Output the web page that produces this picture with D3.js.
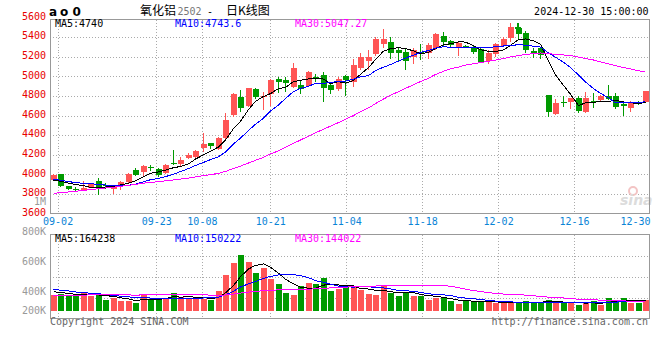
<!DOCTYPE html>
<html>
<head>
<meta charset="utf-8">
<script src="https://cdn.jsdelivr.net/npm/d3@7"></script>
<style>
body { margin: 0; background: #fff; }
svg { display: block; }
text { font-family: "DejaVu Sans Mono", monospace; font-size: 10px; }
</style>
</head>
<body>
<div id="chart"></div>
<script>
// trading days shown (08-30 .. 12-30)
var dates = ["08-30",
  "09-02","09-03","09-04","09-05","09-06","09-09","09-10","09-11","09-12","09-13",
  "09-18","09-19","09-20","09-23","09-24","09-25","09-26","09-27","09-30",
  "10-08","10-09","10-10","10-11","10-14","10-15","10-16","10-17","10-18",
  "10-21","10-22","10-23","10-24","10-25","10-28","10-29","10-30","10-31",
  "11-01","11-04","11-05","11-06","11-07","11-08","11-11","11-12","11-13","11-14","11-15",
  "11-18","11-19","11-20","11-21","11-22","11-25","11-26","11-27","11-28","11-29",
  "12-02","12-03","12-04","12-05","12-06","12-09","12-10","12-11","12-12","12-13",
  "12-16","12-17","12-18","12-19","12-20","12-23","12-24","12-25","12-26","12-27","12-30"];

var opens = [3945,4000,3880,3848,3840,3868,3930,3890,3848,3885,
  3922,4040,4017,4070,4050,4012,4118,4105,4170,4180,
  4268,4316,4258,4373,4605,4792,4697,4870,4790,4822,
  4975,4968,4894,4911,4901,4997,5014,4911,4870,5003,
  4946,5088,5160,5235,5337,5353,5275,5251,5200,5250,
  5235,5296,5414,5360,5296,5314,5302,5278,5150,5228,
  5312,5387,5490,5446,5262,5286,4809,4612,4738,4731,
  4776,4629,4753,4758,4799,4799,4714,4675,4734,4741];
var highs = [4000,4003,3885,3873,3935,3915,3960,3908,3895,3930,
  4010,4060,4095,4095,4065,4105,4250,4173,4220,4250,
  4418,4325,4385,4622,4830,4860,4885,4885,4843,4975,
  4990,4990,5140,4960,5060,5030,5048,4930,4990,5013,
  5174,5235,5275,5400,5480,5400,5300,5290,5290,5330,
  5337,5445,5455,5375,5347,5320,5320,5305,5268,5340,
  5400,5533,5541,5465,5286,5300,4809,4766,4799,4780,
  4799,4843,4826,4810,4911,4826,4731,4745,4745,4850];
var lows = [3935,3868,3840,3822,3830,3860,3785,3847,3795,3835,
  3910,3980,3975,4037,3975,4005,4095,4090,4153,4153,
  4230,4255,4245,4357,4590,4640,4690,4770,4656,4697,
  4830,4840,4884,4820,4890,4940,4741,4820,4850,4800,
  4894,5065,5064,5210,5286,5175,5160,5070,5130,5166,
  5175,5268,5300,5300,5210,5290,5230,5140,5125,5200,
  5300,5355,5387,5235,5184,5180,4588,4605,4690,4666,
  4630,4625,4673,4735,4755,4670,4595,4640,4705,4730];
var closes = [3995,3873,3850,3845,3860,3905,3865,3875,3890,3920,
  4000,3987,4082,4068,3988,4095,4105,4146,4197,4238,
  4309,4282,4373,4554,4819,4684,4877,4792,4805,4967,
  4940,4935,5088,4870,5041,4982,4884,4855,4972,4962,
  5117,5200,5200,5387,5387,5245,5245,5160,5268,5238,
  5319,5438,5353,5320,5337,5308,5251,5150,5235,5330,
  5387,5490,5432,5276,5228,5217,4639,4725,4733,4776,
  4639,4776,4750,4799,4765,4690,4690,4724,4728,4850];
var volumes = [260000,276000,249000,249000,287000,249000,276000,179000,206000,163000,
  163000,136000,260000,190000,206000,206000,298000,233000,206000,190000,
  190000,179000,331000,585000,786000,911000,802000,623000,705000,515000,
  434000,298000,260000,407000,461000,434000,542000,325000,352000,407000,
  407000,341000,276000,260000,407000,287000,249000,314000,249000,249000,
  179000,217000,206000,163000,114000,163000,141000,163000,152000,125000,
  125000,125000,152000,163000,146000,125000,179000,152000,125000,125000,
  92000,152000,163000,92000,211000,163000,211000,136000,136000,179000];

// closes / volumes of the 29 sessions before 08-30 (estimated from where the MA lines start)
var priorCloses = [3640,3660,3625,3610,3630,3620,3645,3650,3665,3675,
  3700,3740,3780,3800,3820,3850,3870,3880,3900,3925,
  3960,3990,3950,3930,3950,3935,3945,3920,3915];
var priorVolumes = [180000,210000,190000,220000,170000,200000,230000,185000,195000,205000,
  175000,215000,190000,200000,210000,180000,225000,195000,185000,215000,
  420000,380000,410000,370000,380000,340000,320000,330000,320000];

var priceTicks = [3600,3800,4000,4200,4400,4600,4800,5000,5200,5400,5600];
var volTicks = [200000,400000,600000,800000,1000000];
var volTickLabels = ["200K","400K","600K","800K","1M"];
var dateTicks = ["09-02","09-23","10-08","10-21","11-04","11-18","12-02","12-16","12-30"];
var priceLegend = ["MA5:4740","MA10:4743.6","MA30:5047.27"];
var volLegend = ["MA5:164238","MA10:150222","MA30:144022"];
var maPeriods = [5, 10, 30];
var maColors = ["#000000", "#0000ff", "#ff00ff"];

var upColor = "#ff5555", downColor = "#009a00";

var width = 660, height = 360;
var left = 50, right = 650;
var mainTop = 19.5, mainBottom = 213.5;
var volTop = 234.5, volBottom = 318.5;

var svg = d3.select("#chart").append("svg")
    .attr("width", width)
    .attr("height", height);

// scales
var x = d3.scaleBand().domain(dates).range([left, right]).paddingInner(0.2).paddingOuter(0.1);
var xGrid = d3.scalePoint().domain(dates).range([left, right]);
var y = d3.scaleLinear().domain([3600, 5600]).range([213.5, 17.7]);
var yVol = d3.scaleLinear().domain([0, 1000000]).range([311, 249.5]);
// sina spaces its volume labels unevenly
var yVolLabel = d3.scaleLinear().domain([200000, 400000, 1000000]).range([310, 291, 201]);

function cx(d) { return Math.round(x(d)) + 2.5; }
function isUp(i) { return closes[i] >= opens[i]; }

function movingAverage(values, prior, n) {
    var all = prior.concat(values);
    return values.map(function(v, i) {
        var end = prior.length + i + 1;
        return d3.mean(all.slice(end - n, end));
    });
}

// ---- grids
var grid = svg.append("g")
    .attr("stroke", "#aaa")
    .attr("stroke-dasharray", "1,2")
    .attr("shape-rendering", "crispEdges");

grid.selectAll(".hg").data(priceTicks.slice(1, -1)).enter().append("line")
    .attr("x1", left).attr("x2", right)
    .attr("y1", function(d) { return Math.round(y(d)) + 0.5; })
    .attr("y2", function(d) { return Math.round(y(d)) + 0.5; });

grid.selectAll(".vg").data(dateTicks.slice(0, -1)).enter().append("line")
    .attr("x1", function(d) { return Math.round(xGrid(d)) + 0.5; })
    .attr("x2", function(d) { return Math.round(xGrid(d)) + 0.5; })
    .attr("y1", mainTop).attr("y2", mainBottom);

grid.selectAll(".vg2").data(dateTicks.slice(0, -1)).enter().append("line")
    .attr("x1", function(d) { return Math.round(xGrid(d)) + 0.5; })
    .attr("x2", function(d) { return Math.round(xGrid(d)) + 0.5; })
    .attr("y1", volTop).attr("y2", volBottom);

grid.selectAll(".hg2").data([1, 2, 3]).enter().append("line")
    .attr("x1", left).attr("x2", right)
    .attr("y1", function(k) { return Math.round(volTop + k * (volBottom - volTop) / 4) + 0.5; })
    .attr("y2", function(k) { return Math.round(volTop + k * (volBottom - volTop) / 4) + 0.5; });

// sina watermark
svg.append("circle").attr("cx", 633).attr("cy", 191).attr("r", 4)
    .attr("fill", "none").attr("stroke", "#f3c4c4").attr("stroke-width", 2);
svg.append("text").attr("x", 620).attr("y", 205)
    .style("font-family", "DejaVu Sans").style("font-size", "14px")
    .style("font-weight", "bold").style("font-style", "italic")
    .attr("fill", "#dcdcdc").text("sina");

// ---- frames
svg.append("rect").attr("x", left + 0.5).attr("y", mainTop)
    .attr("width", right - left - 1).attr("height", mainBottom - mainTop)
    .attr("fill", "none").attr("stroke", "#999").attr("shape-rendering", "crispEdges");
svg.append("rect").attr("x", left + 0.5).attr("y", volTop)
    .attr("width", right - left - 1).attr("height", volBottom - volTop)
    .attr("fill", "none").attr("stroke", "#999").attr("shape-rendering", "crispEdges");

// ---- candles
var candle = svg.append("g").attr("shape-rendering", "crispEdges")
    .selectAll("g").data(dates).enter().append("g")
    .attr("fill", function(d, i) { return isUp(i) ? upColor : downColor; })
    .attr("stroke", function(d, i) { return isUp(i) ? upColor : downColor; });

candle.append("line")
    .attr("x1", cx).attr("x2", cx)
    .attr("y1", function(d, i) { return y(highs[i]); })
    .attr("y2", function(d, i) { return y(lows[i]); });

candle.append("rect")
    .attr("stroke", "none")
    .attr("x", function(d) { return Math.round(x(d)); })
    .attr("width", Math.round(x.bandwidth()))
    .attr("y", function(d, i) { return Math.round(y(Math.max(opens[i], closes[i]))); })
    .attr("height", function(d, i) {
        return Math.max(1, Math.round(Math.abs(y(opens[i]) - y(closes[i]))));
    });

// ---- price moving averages
maPeriods.forEach(function(n, k) {
    var ma = movingAverage(closes, priorCloses, n);
    svg.append("path")
        .datum(ma)
        .attr("fill", "none")
        .attr("stroke", maColors[k])
        .attr("stroke-width", 1)
        .attr("shape-rendering", "crispEdges")
        .attr("d", d3.line()
            .x(function(d, i) { return cx(dates[i]); })
            .y(function(d) { return y(d); }));
});

// ---- volume bars
svg.append("g").attr("shape-rendering", "crispEdges")
    .selectAll("rect").data(volumes).enter().append("rect")
    .attr("x", function(d, i) { return Math.round(x(dates[i])); })
    .attr("width", Math.round(x.bandwidth()))
    .attr("y", function(d) { return Math.round(yVol(d)); })
    .attr("height", function(d) { return Math.round(yVol(0)) - Math.round(yVol(d)); })
    .attr("fill", function(d, i) { return isUp(i) ? upColor : downColor; });

maPeriods.forEach(function(n, k) {
    var ma = movingAverage(volumes, priorVolumes, n);
    svg.append("path")
        .datum(ma)
        .attr("fill", "none")
        .attr("stroke", maColors[k])
        .attr("stroke-width", 1)
        .attr("shape-rendering", "crispEdges")
        .attr("d", d3.line()
            .x(function(d, i) { return cx(dates[i]); })
            .y(function(d) { return yVol(d); }));
});

// ---- axes (labels only)
var yAxis = svg.append("g")
    .attr("transform", "translate(" + left + ",-1.5)")
    .call(d3.axisLeft(y).tickValues(priceTicks).tickSize(0).tickPadding(4).tickFormat(d3.format("d")));
yAxis.select(".domain").remove();
yAxis.selectAll("text").attr("fill", "#e80000")
    .style("font-family", "DejaVu Sans Mono").style("font-size", "10px");

var volAxis = svg.append("g")
    .attr("transform", "translate(" + left + ",0)")
    .call(d3.axisLeft(yVolLabel).tickValues(volTicks).tickSize(0).tickPadding(4)
        .tickFormat(function(d, i) { return volTickLabels[i]; }));
volAxis.select(".domain").remove();
volAxis.selectAll("text").attr("fill", "#999")
    .style("font-family", "DejaVu Sans Mono").style("font-size", "10px");

var xAxis = svg.append("g")
    .attr("transform", "translate(0," + mainBottom + ")")
    .call(d3.axisBottom(xGrid).tickValues(dateTicks).tickSize(0).tickPadding(4));
xAxis.select(".domain").remove();
xAxis.selectAll("text").attr("fill", "#0a84d6")
    .attr("dy", "0.71em")
    .style("font-family", "DejaVu Sans Mono").style("font-size", "10px")
    .attr("text-anchor", function(d, i) { return i === dateTicks.length - 1 ? "end" : "middle"; });

// ---- legends
var legendX = [55, 175, 295];
svg.selectAll(".pl").data(priceLegend).enter().append("text")
    .attr("x", function(d, i) { return legendX[i]; })
    .attr("y", 27)
    .attr("fill", function(d, i) { return maColors[i]; })
    .text(function(d) { return d; });
svg.selectAll(".vl").data(volLegend).enter().append("text")
    .attr("x", function(d, i) { return legendX[i]; })
    .attr("y", 242)
    .attr("fill", function(d, i) { return maColors[i]; })
    .text(function(d) { return d; });

// ---- header
svg.append("text").attr("x", "49 60 72.5").attr("y", 16)
    .style("font-family", "DejaVu Sans").style("font-size", "12px").style("font-weight", "bold")
    .attr("fill", "#000").text("ao0");

svg.append("text").attr("x", 140).attr("y", 15)
    .style("font-family", "Noto Sans CJK SC").style("font-size", "12px")
    .attr("fill", "#000").text("氧化铝");
svg.append("text").attr("x", 177.5).attr("y", 15)
    .attr("fill", "#777").text("2502");
svg.append("text").attr("x", 207).attr("y", 15)
    .attr("fill", "#000").text("-");
svg.append("text").attr("x", 226).attr("y", 15)
    .style("font-family", "Noto Sans CJK SC").style("font-size", "12px")
    .attr("fill", "#000").text("日K线图");

svg.append("text").attr("x", 648.5).attr("y", 15)
    .attr("text-anchor", "end").attr("fill", "#000").text("2024-12-30 15:00:00");

// small up / down markers
var marks = svg.append("g").attr("shape-rendering", "crispEdges");
[[508, upColor], [515, downColor]].forEach(function(m) {
    marks.append("rect").attr("x", m[0] + 2).attr("y", 23).attr("width", 1).attr("height", 4).attr("fill", m[1]);
    marks.append("rect").attr("x", m[0]).attr("y", 27).attr("width", 6).attr("height", 2).attr("fill", m[1]);
});

// ---- footer
svg.append("text").attr("x", 50).attr("y", 325)
    .attr("fill", "#666").text("Copyright 2024 SINA.COM");
svg.append("text").attr("x", 648).attr("y", 325)
    .attr("text-anchor", "end").attr("fill", "#666").text("http://finance.sina.com.cn");
</script>
</body>
</html>
